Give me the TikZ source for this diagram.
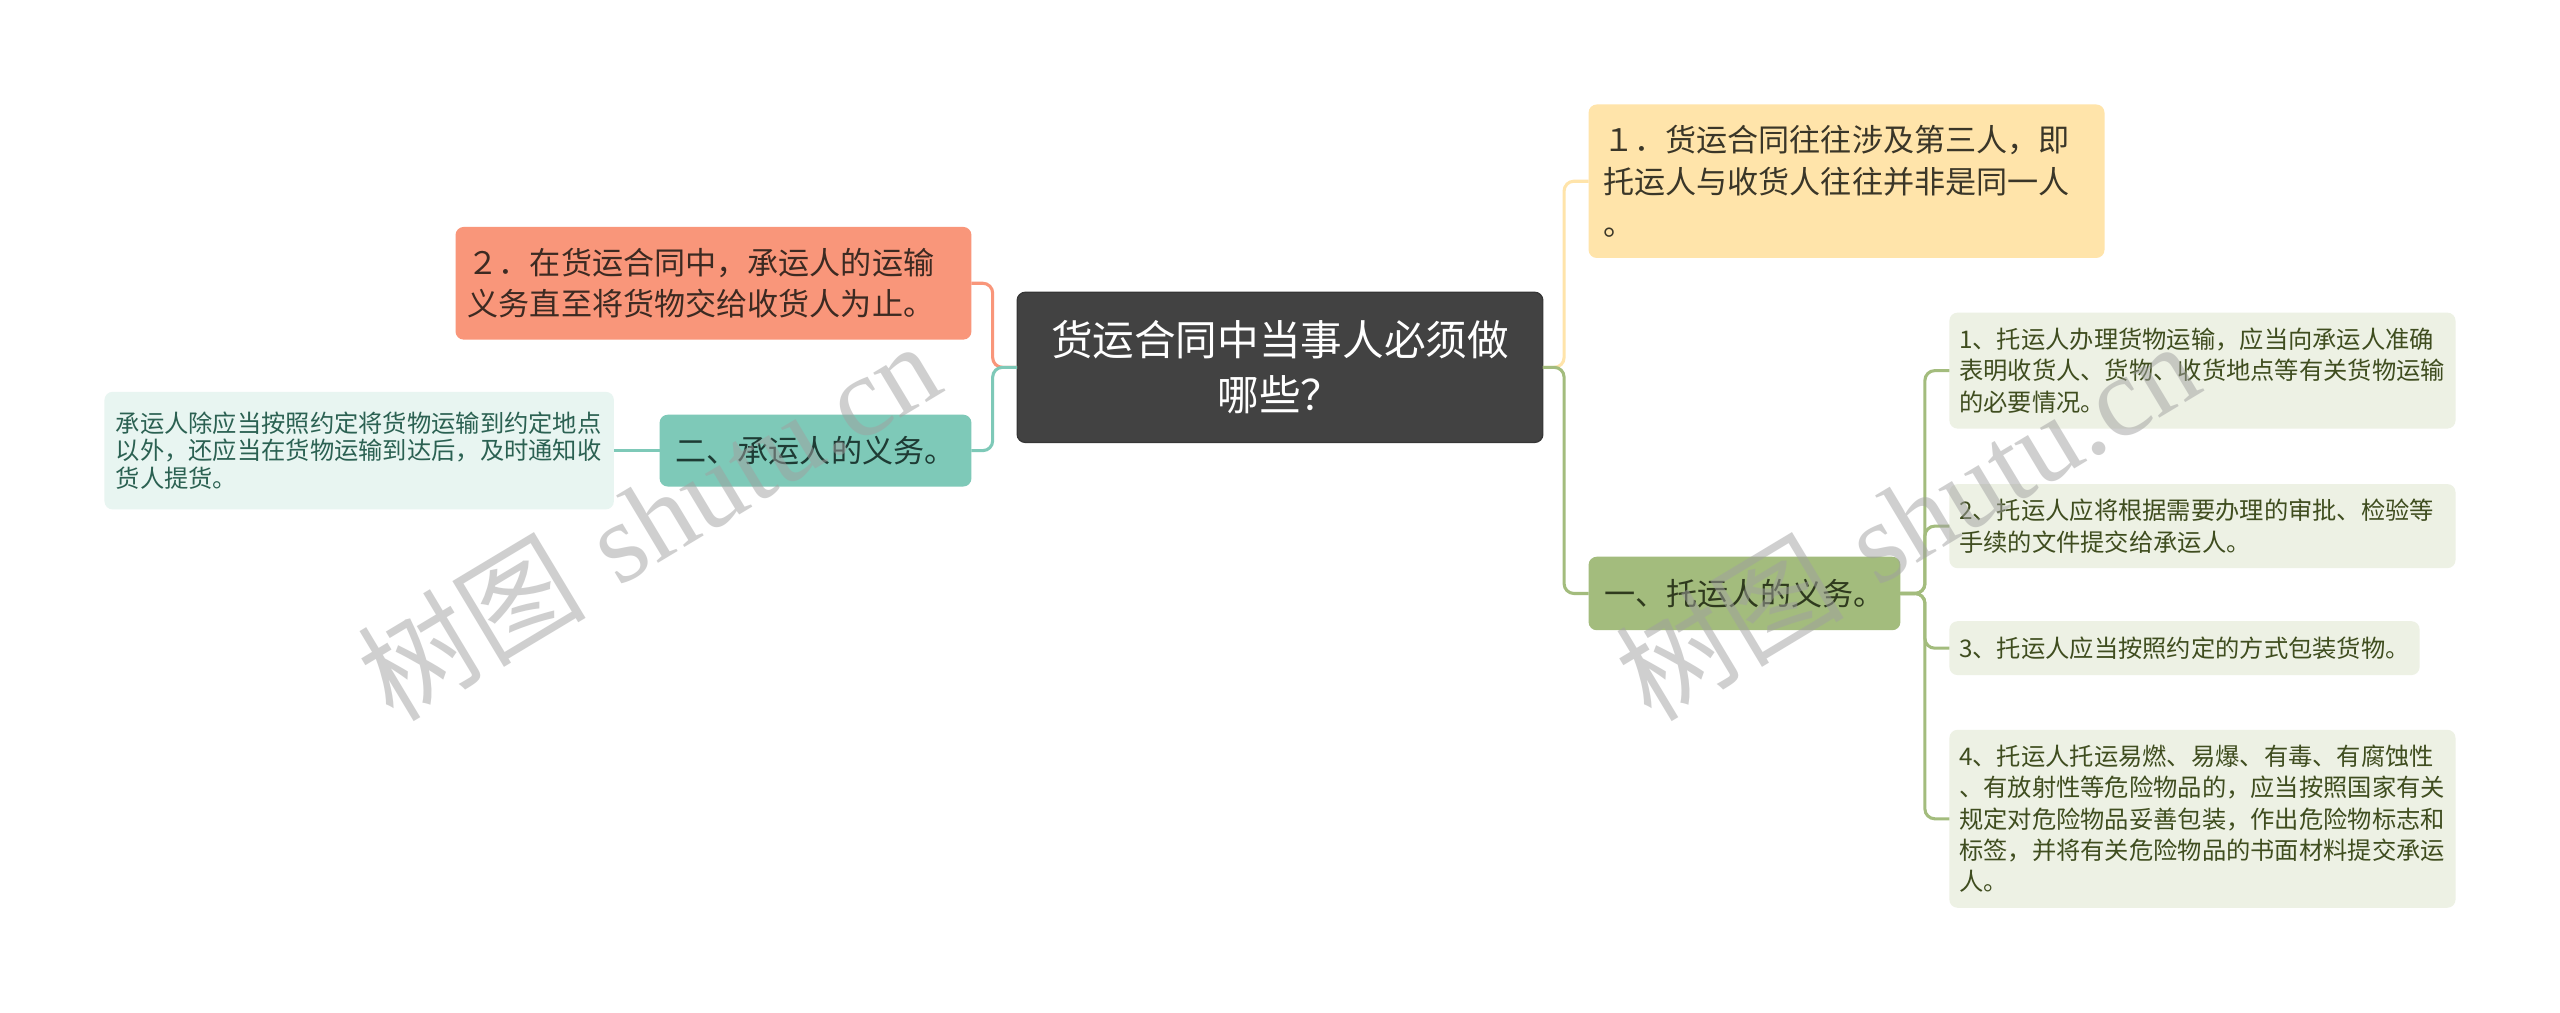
\documentclass[tikz,border=0pt]{standalone}
\usepackage{fontspec}
\newfontfamily\cjk{Noto Sans CJK SC}
\newfontfamily\wmserif{Liberation Serif}
\definecolor{cdark}{HTML}{424242}
\definecolor{cdarkb}{HTML}{363636}
\definecolor{cyel}{HTML}{FFE4AA}
\definecolor{cyeltx}{HTML}{3A3628}
\definecolor{corg}{HTML}{F9967A}
\definecolor{corgtx}{HTML}{3C2A22}
\definecolor{cteal}{HTML}{7EC9B8}
\definecolor{ctealtx}{HTML}{1E3B34}
\definecolor{cleafl}{HTML}{E8F5F1}
\definecolor{cleafltx}{HTML}{2B6152}
\definecolor{cgrn}{HTML}{A3BC7D}
\definecolor{cgrntx}{HTML}{2F3A1E}
\definecolor{cleafr}{HTML}{EDF1E4}
\definecolor{cleafrtx}{HTML}{3F4D1F}
\definecolor{cwm}{HTML}{A0A0A0}
\tikzset{
  box/.style={rectangle, rounded corners=4pt, inner ysep=0pt, outer sep=0pt, anchor=center},
  rootbox/.style={box, fill=cdark, draw=cdarkb, line width=0.6pt, text=white, align=center,
    minimum width=257.6pt, minimum height=73.6pt, font=\cjk\fontsize{20.4pt}{27.2pt}\selectfont},
  midfont/.style={font=\cjk\fontsize{15.24pt}{20.4pt}\selectfont},
  leaffontl/.style={font=\cjk\fontsize{11.9pt}{13.6pt}\selectfont},
  leaffontr/.style={font=\cjk\fontsize{11.9pt}{15.4pt}\selectfont},
  yelbox/.style={box, midfont, fill=cyel, text=cyeltx, align=left, inner xsep=7.2pt,
    text width=238.4pt, minimum height=75.2pt},
  orgbox/.style={box, midfont, fill=corg, text=corgtx, align=left, inner xsep=6pt,
    text width=240.8pt, minimum height=55.2pt},
  tealbox/.style={box, midfont, fill=cteal, text=ctealtx, align=center,
    minimum width=152.8pt, minimum height=35.2pt},
  grnbox/.style={box, midfont, fill=cgrn, text=cgrntx, align=center,
    minimum width=152.8pt, minimum height=36pt},
  leafl/.style={box, leaffontl, fill=cleafl, text=cleafltx, align=left, inner xsep=5.5pt,
    text width=238.6pt, minimum height=57.6pt},
  leafr/.style={box, leaffontr, fill=cleafr, text=cleafrtx, align=left, inner xsep=4.8pt,
    text width=238.4pt},
  ln/.style={line width=1.5pt, rounded corners=4.8pt},
  wm/.style={text=cwm, opacity=0.5, font=\fontsize{56pt}{56pt}\selectfont, anchor=center, inner sep=0pt}
}
\begin{document}
\begin{tikzpicture}[x=0.8pt,y=-0.8pt]
\useasboundingbox[fill=white] (0,0) rectangle (1568,620);

% nodes
\node[rootbox] (c) at (784,225) {货运合同中当事人必须做\\哪些？};
\node[yelbox] (y) at (1131,111) {１．货运合同往往涉及第三人，即\\托运人与收货人往往并非是同一人\\。};
\node[orgbox] (o) at (437,173.5) {２．在货运合同中，承运人的运输\\义务直至将货物交给收货人为止。};
\node[tealbox] (t) at (499.5,276) {二、承运人的义务。};
\node[leafl] (fl) at (220,276) {承运人除应当按照约定将货物运输到约定地点\\以外，还应当在货物运输到达后，及时通知收\\货人提货。};
\node[grnbox] (g) at (1068.5,363.5) {一、托运人的义务。};
\node[leafr, minimum height=56.8pt] (r1) at (1349,227) {1、托运人办理货物运输，应当向承运人准确\\表明收货人、货物、收货地点等有关货物运输\\的必要情况。};
\node[leafr, minimum height=41.2pt] (r2) at (1349,322.25) {2、托运人应将根据需要办理的审批、检验等\\手续的文件提交给承运人。};
\node[leafr, minimum height=26.4pt, text width=220.8pt] (r3) at (1338,397) {3、托运人应当按照约定的方式包装货物。};
\node[leafr, minimum height=87.2pt] (r4) at (1349,501.5) {4、托运人托运易燃、易爆、有毒、有腐蚀性\\、有放射性等危险物品的，应当按照国家有关\\规定对危险物品妥善包装，作出危险物标志和\\标签，并将有关危险物品的书面材料提交承运\\人。};

% junction points
\coordinate (jr) at (958,225);
\coordinate (jl) at (608,225);
\coordinate (jg) at (1179,363.5);

% connectors
\draw[ln, cyel] (c.east) -- (jr) |- (y.west);
\draw[ln, cgrn] (c.east) -- (jr) |- (g.west);
\draw[ln, corg] (c.west) -- (jl) |- (o.east);
\draw[ln, cteal] (c.west) -- (jl) |- (t.east);
\draw[ln, cteal] (t.west) -- (fl.east);
\draw[ln, cgrn] (g.east) -- (jg) |- (r1.west);
\draw[ln, cgrn] (g.east) -- (jg) |- (r2.west);
\draw[ln, cgrn] (g.east) -- (jg) |- (r3.west);
\draw[ln, cgrn] (g.east) -- (jg) |- (r4.west);

% watermarks
\node[wm, rotate=31] (wm1) at (397,318) {{\cjk 树图} {\wmserif shutu.cn}};
\node[wm, rotate=31] (wm2) at (1168,318) {{\cjk 树图} {\wmserif shutu.cn}};
\end{tikzpicture}
\end{document}
